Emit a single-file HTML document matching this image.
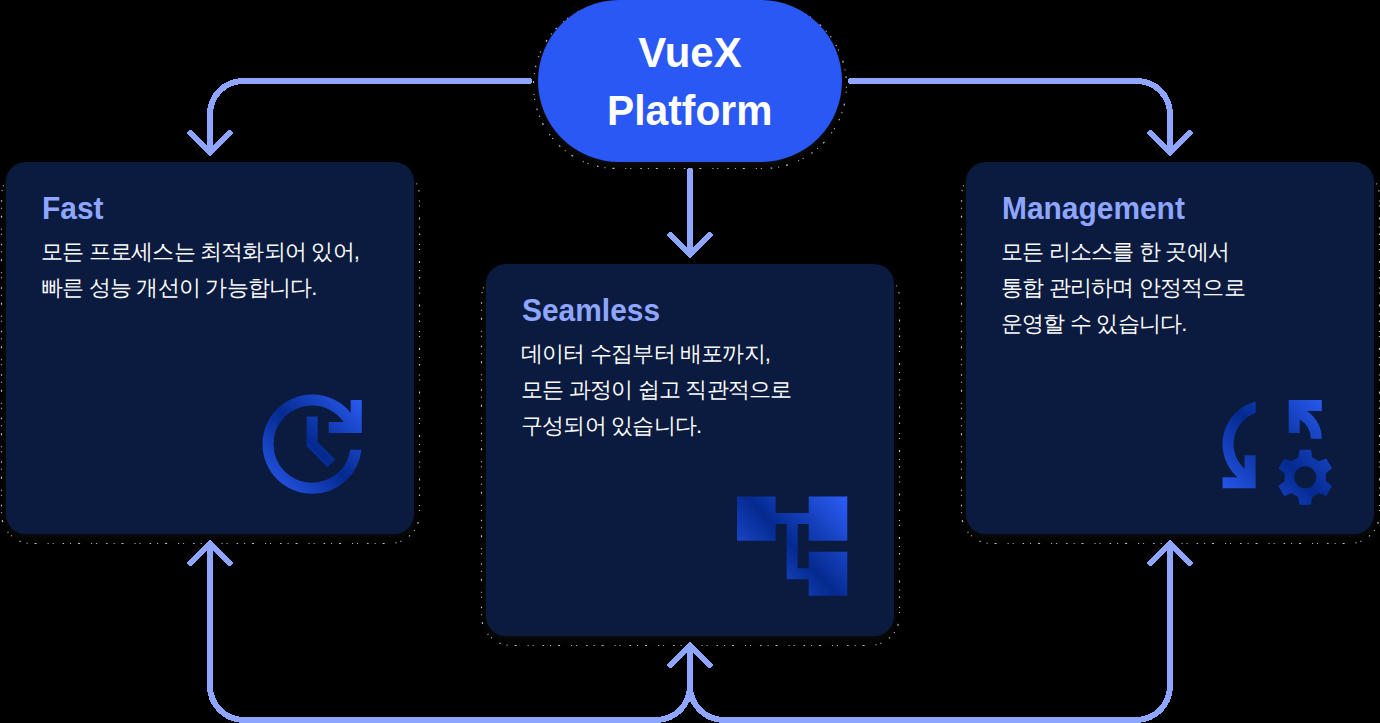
<!DOCTYPE html>
<html>
<head>
<meta charset="utf-8">
<style>
html,body{margin:0;padding:0;}
body{width:1380px;height:723px;background:#000;position:relative;overflow:hidden;font-family:"Liberation Sans",sans-serif;}
.card{position:absolute;width:408px;height:372px;background:#0B1B3F;border-radius:20px;box-shadow:0 3px 8px rgba(255,255,255,0.06);}
.title{position:absolute;left:36px;top:29px;font-size:31px;transform:scaleX(0.965);transform-origin:0 0;font-weight:bold;color:#8EA6FF;line-height:36px;white-space:nowrap;}
.body{position:absolute;left:35px;top:72px;font-size:22px;letter-spacing:-0.8px;color:#FAFAFA;line-height:36px;white-space:nowrap;}
.pill{position:absolute;left:538.25px;top:-0.5px;width:303.5px;height:162.5px;border-radius:81.25px;background:#2A58F5;box-shadow:0 3px 8px rgba(255,255,255,0.06);}
.pill div{position:absolute;left:0;width:303.5px;text-align:center;color:#fff;font-weight:bold;font-size:42px;line-height:57px;white-space:nowrap;}
svg{position:absolute;left:0;top:0;}
</style>
</head>
<body>
<svg width="1380" height="723" viewBox="0 0 1380 723">
  <g fill="none" stroke="#FFFFFF" stroke-width="1.2" stroke-dasharray="1 6 1.5 9 1 4 1 11 2 7" opacity="0.75">
    <rect x="1.5" y="166.5" width="418" height="377" rx="30"/>
    <rect x="481.5" y="268.5" width="418" height="377" rx="30"/>
    <rect x="961.5" y="166.5" width="418" height="377" rx="30"/>
    <rect x="533.5" y="2.5" width="313" height="166" rx="83"/>
  </g>
</svg>
<svg width="1380" height="723" viewBox="0 0 1380 723">
  <g fill="none" stroke="#8EA6FF" stroke-width="6" stroke-linecap="round" stroke-linejoin="round" shape-rendering="crispEdges">
    <path d="M529 81 H243 A33 33 0 0 0 210 114 V152"/>
    <path d="M190.5 133 L210 152.5 L229.5 133"/>
    <path d="M851 81 H1137 A33 33 0 0 1 1170 114 V152"/>
    <path d="M1150.5 133 L1170 152.5 L1189.5 133"/>
    <path d="M690 171 V254.5"/>
    <path d="M670.5 235 L690 254.5 L709.5 235"/>
    <path d="M210 543.5 V686 A34 34 0 0 0 244 720 H656 A34 34 0 0 0 690 686 V645.5"/>
    <path d="M1170 543.5 V686 A34 34 0 0 1 1136 720 H724 A34 34 0 0 1 690 686"/>
    <path d="M190.5 563 L210 543.5 L229.5 563"/>
    <path d="M1150.5 563 L1170 543.5 L1189.5 563"/>
    <path d="M670.5 665 L690 645.5 L709.5 665"/>
  </g>
</svg>

<div class="pill">
  <div style="top:24.5px">VueX</div>
  <div style="top:82px;transform:scaleX(0.97)">Platform</div>
</div>

<div class="card" style="left:6px;top:162px;">
  <div class="title">Fast</div>
  <div class="body">모든 프로세스는 최적화되어 있어,<br>빠른 성능 개선이 가능합니다.</div>
</div>
<div class="card" style="left:486px;top:264px;">
  <div class="title">Seamless</div>
  <div class="body">데이터 수집부터 배포까지,<br>모든 과정이 쉽고 직관적으로<br>구성되어 있습니다.</div>
</div>
<div class="card" style="left:966px;top:162px;">
  <div class="title">Management</div>
  <div class="body">모든 리소스를 한 곳에서<br>통합 관리하며 안정적으로<br>운영할 수 있습니다.</div>
</div>

<svg width="1380" height="723" viewBox="0 0 1380 723">
  <defs>
    <linearGradient id="g1" gradientUnits="userSpaceOnUse" x1="120" y1="920" x2="914" y2="160">
      <stop offset="0" stop-color="#2C5EF8"/>
      <stop offset="0.5" stop-color="#042A8F"/>
      <stop offset="1" stop-color="#2C5EF8"/>
    </linearGradient>
    <linearGradient id="g2" gradientUnits="userSpaceOnUse" x1="120" y1="-120" x2="840" y2="-840">
      <stop offset="0" stop-color="#2C5EF8"/>
      <stop offset="0.5" stop-color="#042A8F"/>
      <stop offset="1" stop-color="#2C5EF8"/>
    </linearGradient>
    <linearGradient id="g3" gradientUnits="userSpaceOnUse" x1="80" y1="-120" x2="880" y2="-840">
      <stop offset="0" stop-color="#2C5EF8"/>
      <stop offset="0.5" stop-color="#042A8F"/>
      <stop offset="1" stop-color="#2C5EF8"/>
    </linearGradient>
  </defs>
  <!-- update icon -->
  <g transform="translate(246 378) scale(0.1378)">
    <path fill="url(#g2)" transform="translate(0 960)" d="M480-120q-75 0-140.5-28.5t-114-77q-48.5-48.5-77-114T120-480q0-75 28.5-140.5t77-114q48.5-48.5 114-77T480-840q82 0 155.5 35T760-706v-94h80v240H600v-80h110q-41-56-101-88t-129-32q-117 0-198.5 81.5T200-480q0 117 81.5 198.5T480-200q105 0 183.5-68T756-440h82q-15 137-117.5 228.5T480-120Zm112-192L440-464v-216h80v184l128 128-56 56Z"/>
  </g>
  <!-- account tree icon -->
  <g transform="translate(726 480) scale(0.1378)">
    <path fill="url(#g3)" transform="translate(0 960)" d="M600-120v-120H440v-400h-80v120H80v-320h280v120h240v-120h280v320H600v-120h-80v320h80v-120h280v320H600Z"/>
  </g>
  <!-- reset settings icon -->
  <g transform="translate(1206 378) scale(0.1378)">
    <path fill="url(#g1)" d="M360 170 A320 320 0 0 0 228.3 720 H120 V800 H360 V560 H280 V658.9 A240 240 0 0 1 360 253.9 Z"/>
    <path fill="url(#g1)" d="M600 160 H840 V240 H732.7 A240 240 0 0 1 840 440 H760 A160 160 0 0 0 680 301.4 V400 H600 Z"/>
    <path fill="url(#g1)" fill-rule="evenodd" d="M669.0 577.0 L679.0 520.0 L761.0 520.0 L771.0 577.0 L818.3 604.3 L872.7 584.5 L913.7 655.5 L869.3 692.7 L869.3 747.3 L913.7 784.5 L872.7 855.5 L818.3 835.7 L771.0 863.0 L761.0 920.0 L679.0 920.0 L669.0 863.0 L621.7 835.7 L567.3 855.5 L526.3 784.5 L570.7 747.3 L570.7 692.7 L526.3 655.5 L567.3 584.5 L621.7 604.3 Z M800 720 A80 80 0 1 0 640 720 A80 80 0 1 0 800 720 Z"/>
  </g>
</svg>
</body>
</html>
